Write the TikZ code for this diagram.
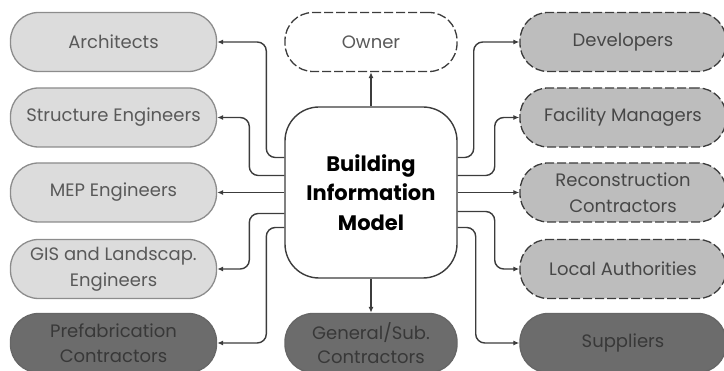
\documentclass[tikz,border=0pt]{standalone}
\usepackage{fontspec}
\setmainfont{Poppins}
\usepackage{tikz}
\usetikzlibrary{arrows,arrows.meta,positioning,shapes}
\definecolor{lightbox}{HTML}{DCDCDC}
\definecolor{midbox}{HTML}{BDBDBD}
\definecolor{darkbox}{HTML}{6C6C6C}
\definecolor{lineclr}{HTML}{3C3C3C}
\tikzset{>={Latex[length=6pt,width=5pt]},shorten >=0pt,node distance=2cm}
\tikzset{
    party/.style={rectangle,rounded corners=28pt,minimum width=206pt,minimum height=59pt,
        align=center,line width=1.3pt,inner xsep=2pt,font=\fontsize{18}{26}\selectfont},
    designer/.style={party,draw=black!45,fill=lightbox,text=black!65},
    operator/.style={party,draw=lineclr,dashed,dash pattern=on 9pt off 3pt,fill=midbox,text=black!72},
    supplier/.style={party,draw=black!60,fill=darkbox,text=black!78,font=\fontsize{18}{24.5}\selectfont},
    conn/.style={->,draw=lineclr,line width=1.4pt,rounded corners=9pt}
}

\begin{document}
\begin{tikzpicture}[x=1pt,y=-1pt]
    \useasboundingbox (0,0) rectangle (724,371);
    % model in the middle
    \node[draw=lineclr,line width=1.4pt,fill=white,rounded corners=34pt,minimum width=172pt,
        minimum height=171pt,align=center,font=\bfseries\fontsize{21}{29.5}\selectfont] (bim) at (371,192.5)
        {Building\\Information\\Model};
    % top and bottom
    \node[party,draw=lineclr,dashed,dash pattern=on 9pt off 3pt,fill=white,text=black!65,
        minimum width=172pt] (owner) at (371,42) {Owner};
    \node[supplier,minimum width=172pt] (general) at (371,343) {General/Sub.\\Contractors};
    % left column
    \node[designer] (arch)   at (113.5,42)    {Architects};
    \node[designer] (struct) at (113.5,117.5) {Structure Engineers};
    \node[designer] (mep)    at (113.5,192.5) {MEP Engineers};
    \node[designer] (gis)    at (113.5,269)   {GIS and Landscap.\\Engineers};
    \node[supplier] (prefab) at (113.5,343)   {Prefabrication\\Contractors};
    % right column
    \node[operator] (dev)    at (623,42)    {Developers};
    \node[operator] (fm)     at (623,117.5) {Facility Managers};
    \node[operator] (recon)  at (623,192.5) {Reconstruction\\Contractors};
    \node[operator] (local)  at (623,269)   {Local Authorities};
    \node[supplier] (supp)   at (623,343)   {Suppliers};
    % connectors
    \draw[conn] (bim.north) -- (owner.south);
    \draw[conn] (bim.south) -- (general.north);
    \draw[conn] ([yshift=35pt]bim.west) -- ++(-18,0) |- (arch.east);
    \draw[conn] ([yshift=17pt]bim.west) -- ++(-35,0) |- (struct.east);
    \draw[conn] (bim.west) -- (mep.east);
    \draw[conn] ([yshift=-21pt]bim.west) -- ++(-35,0) |- (gis.east);
    \draw[conn] ([yshift=-35pt]bim.west) -- ++(-18,0) |- (prefab.east);
    \draw[conn] ([yshift=35pt]bim.east) -- ++(16,0) |- (dev.west);
    \draw[conn] ([yshift=17pt]bim.east) -- ++(37,0) |- (fm.west);
    \draw[conn] (bim.east) -- (recon.west);
    \draw[conn] ([yshift=-19pt]bim.east) -- ++(37,0) |- (local.west);
    \draw[conn] ([yshift=-35pt]bim.east) -- ++(18,0) |- (supp.west);
\end{tikzpicture}
\end{document}
